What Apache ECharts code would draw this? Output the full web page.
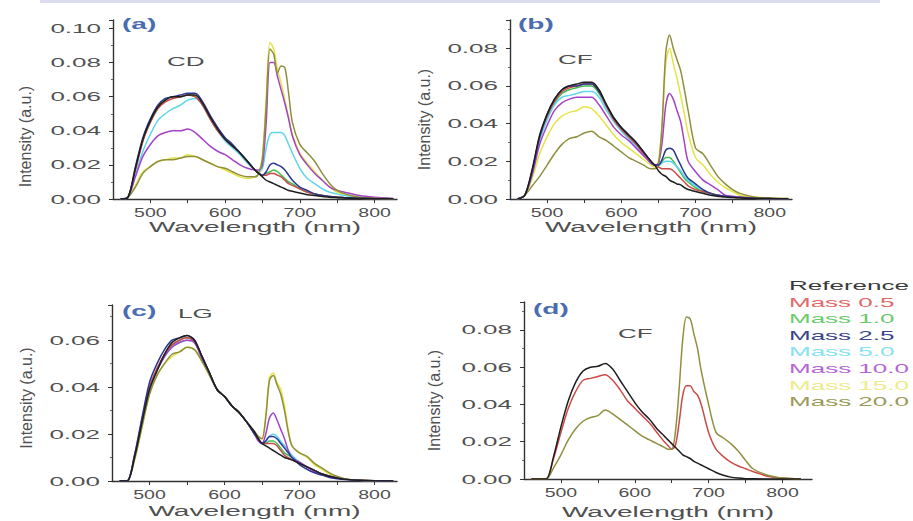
<!DOCTYPE html>
<html><head><meta charset="utf-8">
<script src="https://cdn.jsdelivr.net/npm/echarts@6/dist/echarts.min.js"></script>
<style>html,body{margin:0;padding:0;background:#fff}#c{width:913px;height:521px}</style>
</head><body><div id="c"></div>
<script>
// ---------- data ----------
const WAVELENGTH = [460,470,480,490,500,510,520,530,540,550,560,570,580,590,600,610,620,630,640,645,650,655,660,665,670,675,680,685,690,700,710,720,730,740,750,760,780,800,825];
const SERIES_NAMES = ['Reference','Mass 0.5','Mass 1.0','Mass 2.5','Mass 5.0','Mass 10.0','Mass 15.0','Mass 20.0'];
const X_TICK_LABELS = [500,600,700,800];
const Y_TICK_LABELS = [0.00,0.02,0.04,0.06,0.08,0.10];

// (a) CD
const A_REF   = [0,.001,.018,.035,.046,.054,.058,.060,.060,.061,.061,.056,.048,.041,.035,.031,.027,.022,.017,.015,.013,.011,.010,.009,.008,.007,.006,.005,.0045,.0035,.0025,.002,.0015,.001,.0008,.0006,.0003,.0002,.0001];
const A_M05   = [0,.001,.017,.034,.045,.053,.057,.059,.060,.061,.060,.055,.047,.040,.035,.031,.027,.022,.017,.015,.014,.014,.015,.015,.014,.013,.011,.009,.008,.006,.004,.003,.002,.0015,.001,.0008,.0004,.0002,.0001];
const A_M10   = [0,.001,.017,.034,.045,.053,.058,.060,.060,.061,.060,.055,.047,.040,.035,.031,.027,.022,.017,.015,.014,.015,.016,.017,.016,.014,.012,.010,.009,.006,.004,.003,.002,.0015,.001,.0008,.0004,.0002,.0001];
const A_M25   = [0,.001,.019,.036,.047,.055,.059,.060,.061,.062,.062,.057,.049,.042,.036,.032,.027,.022,.017,.015,.014,.016,.020,.021,.020,.019,.017,.014,.011,.007,.005,.003,.002,.0015,.001,.0008,.0004,.0002,.0001];
const A_M50   = [0,.001,.014,.028,.038,.046,.050,.053,.055,.058,.059,.055,.047,.040,.034,.030,.026,.021,.017,.016,.018,.030,.038,.039,.039,.039,.037,.032,.027,.018,.012,.009,.006,.004,.003,.002,.001,.0005,.0002];
const A_M100  = [0,.001,.013,.025,.032,.037,.039,.040,.040,.041,.039,.035,.031,.028,.026,.023,.020,.018,.017,.017,.020,.045,.080,.080,.072,.064,.056,.047,.037,.026,.020,.015,.011,.007,.005,.004,.002,.001,.0003];
const A_M150  = [0,.001,.008,.016,.019,.022,.023,.024,.024,.026,.025,.023,.021,.019,.017,.015,.013,.012,.013,.015,.025,.060,.092,.088,.076,.068,.058,.048,.038,.027,.021,.016,.011,.007,.004,.003,.001,.0005,.0002];
const A_M200  = [0,.001,.007,.015,.019,.022,.023,.023,.024,.025,.025,.023,.021,.019,.018,.016,.014,.013,.013,.015,.024,.055,.088,.085,.074,.078,.077,.062,.045,.032,.027,.022,.015,.009,.005,.003,.001,.0005,.0002];

// (b) CF
const B_REF   = [0,.002,.016,.034,.045,.053,.058,.060,.061,.062,.062,.058,.050,.043,.038,.034,.030,.025,.020,.018,.015,.013,.012,.010,.009,.008,.0075,.006,.005,.004,.003,.002,.0015,.001,.0008,.0006,.0003,.0002,.0001];
const B_M05   = [0,.002,.015,.033,.044,.052,.057,.059,.060,.061,.061,.057,.049,.042,.037,.033,.029,.024,.019,.018,.017,.016,.016,.016,.015,.013,.011,.009,.007,.005,.004,.003,.002,.0015,.001,.0008,.0004,.0002,.0001];
const B_M10   = [0,.002,.014,.032,.043,.051,.056,.058,.059,.060,.060,.056,.049,.042,.037,.033,.029,.024,.019,.018,.018,.020,.022,.022,.020,.017,.014,.011,.009,.006,.004,.003,.002,.0015,.001,.0008,.0004,.0002,.0001];
const B_M25   = [0,.002,.015,.033,.045,.053,.058,.060,.060,.061,.061,.057,.050,.043,.038,.034,.030,.025,.020,.018,.018,.021,.026,.027,.026,.022,.018,.014,.011,.008,.005,.003,.002,.0015,.001,.0008,.0004,.0002,.0001];
const B_M50   = [0,.002,.014,.031,.042,.050,.054,.055,.056,.057,.057,.054,.047,.041,.036,.032,.028,.024,.019,.018,.018,.019,.020,.020,.019,.017,.015,.012,.010,.007,.005,.003,.002,.0015,.001,.0008,.0004,.0002,.0001];
const B_M100  = [0,.002,.013,.029,.039,.047,.051,.053,.054,.054,.054,.050,.044,.038,.034,.031,.027,.023,.019,.018,.019,.030,.050,.056,.053,.047,.041,.030,.020,.0145,.010,.0075,.005,.002,.0015,.001,.0005,.0002,.0001];
const B_M150  = [0,.002,.011,.024,.033,.040,.044,.046,.047,.049,.048,.044,.039,.034,.030,.027,.024,.021,.018,.017,.020,.040,.072,.080,.072,.064,.055,.045,.035,.022,.018,.013,.009,.006,.004,.002,.001,.0005,.0002];
const B_M200  = [0,.002,.007,.012,.018,.024,.029,.032,.033,.035,.036,.033,.031,.028,.025,.022,.020,.018,.016,.016,.018,.040,.078,.087,.080,.074,.068,.058,.047,.027,.024,.018,.012,.008,.005,.003,.001,.0005,.0002];

// (c) LG
const C_REF   = [0,0,.010,.025,.039,.047,.054,.059,.061,.062,.060,.053,.046,.039,.036,.032,.029,.025,.021,.018,.016,.015,.014,.013,.012,.011,.010,.0095,.009,.0075,.006,.0045,.003,.002,.0013,.0008,.0003,.0001,0];
const C_M05   = [0,0,.011,.026,.040,.048,.054,.058,.060,.061,.059,.053,.046,.039,.036,.032,.029,.025,.020,.018,.016,.016,.016,.016,.015,.013,.011,.010,.009,.0075,.006,.0045,.003,.002,.0013,.0008,.0003,.0001,0];
const C_M10   = [0,0,.010,.025,.039,.047,.054,.058,.060,.061,.059,.053,.046,.039,.036,.032,.029,.025,.020,.018,.016,.016,.017,.017,.016,.014,.012,.011,.010,.008,.006,.0045,.003,.002,.0013,.0008,.0003,.0001,0];
const C_M25   = [0,0,.011,.027,.042,.050,.056,.060,.061,.062,.060,.053,.046,.039,.036,.032,.029,.025,.020,.018,.016,.017,.019,.019,.018,.016,.014,.012,.010,.007,.005,.0035,.0025,.0015,.001,.0006,.0002,.0001,0];
const C_M50   = [0,0,.010,.025,.039,.047,.053,.057,.059,.060,.059,.053,.046,.039,.036,.032,.029,.025,.020,.018,.016,.017,.019,.020,.019,.017,.015,.013,.011,.008,.006,.0045,.003,.002,.0013,.0008,.0003,.0001,0];
const C_M100  = [0,0,.010,.025,.039,.047,.053,.057,.059,.060,.059,.052,.046,.039,.036,.032,.029,.025,.020,.017,.016,.020,.027,.029,.026,.022,.018,.013,.010,.008,.006,.004,.003,.002,.0013,.0008,.0003,.0001,0];
const C_M150  = [0,0,.009,.023,.037,.045,.050,.053,.055,.057,.056,.051,.045,.039,.036,.032,.029,.025,.021,.019,.018,.028,.044,.046,.042,.039,.032,.022,.015,.012,.010,.007,.005,.003,.0017,.001,.0003,.0001,0];
const C_M200  = [0,0,.009,.023,.037,.045,.050,.054,.055,.057,.056,.051,.045,.039,.036,.032,.029,.025,.021,.019,.018,.027,.043,.045,.041,.037,.030,.021,.015,.012,.0105,.0075,.0055,.0035,.002,.001,.0003,.0001,0];

// (d) CF
const D_REF   = [0,0,0,.012,.028,.042,.052,.058,.060,.0605,.062,.059,.053,.047,.041,.036,.032,.027,.023,.021,.019,.017,.015,.013,.012,.011,.0095,.0085,.0075,.0055,.0035,.002,.001,.0005,.0002,.0001,0,0,0];
const D_M05   = [0,0,0,.011,.025,.038,.047,.053,.054,.055,.056,.053,.048,.042,.038,.034,.030,.025,.020,.018,.016,.018,.030,.045,.050,.050,.047,.045,.040,.025,.016,.012,.009,.007,.0055,.004,.0015,.0005,0];
const D_M200  = [0,0,0,.006,.013,.021,.027,.031,.033,.034,.037,.035,.032,.029,.026,.023,.021,.019,.017,.016,.016,.025,.048,.075,.087,.086,.078,.070,.058,.040,.025,.022,.019,.015,.010,.0055,.002,.0005,0];

// ---------- styles / layout ----------
const COLORS = {
  'Reference':'#1e1e1e','Mass 0.5':'#cc4a48','Mass 1.0':'#3fbf4f','Mass 2.5':'#2b3690',
  'Mass 5.0':'#5fd5ef','Mass 10.0':'#a443c9','Mass 15.0':'#e4e446','Mass 20.0':'#8f8f3e'
};
const LEGEND_COLORS = {
  'Reference':'#3a3a3a','Mass 0.5':'#e06a68','Mass 1.0':'#6acc6a','Mass 2.5':'#3a4488',
  'Mass 5.0':'#86e2f2','Mass 10.0':'#b666d6','Mass 15.0':'#ecec8a','Mass 20.0':'#9a9a58'
};
const DRAW_ORDER = ['Mass 1.0','Mass 5.0','Mass 15.0','Mass 0.5','Mass 10.0','Mass 20.0','Mass 2.5','Reference'];

const panels = [
  {label:'(a)', tag:'CD', grid:{left:113,top:20,width:284,height:179}, xMax:830, yMax:0.105, yNameGap:80, yShift:54, xNameGap:20,
   data:{'Reference':A_REF,'Mass 0.5':A_M05,'Mass 1.0':A_M10,'Mass 2.5':A_M25,'Mass 5.0':A_M50,'Mass 10.0':A_M100,'Mass 15.0':A_M150,'Mass 20.0':A_M200},
   labelPos:[122,17], tagPos:[167,55]},
  {label:'(b)', tag:'CF', grid:{left:510,top:20,width:282,height:179}, xMax:830, yMax:0.095, yNameGap:78, yShift:20, xNameGap:20,
   data:{'Reference':B_REF,'Mass 0.5':B_M05,'Mass 1.0':B_M10,'Mass 2.5':B_M25,'Mass 5.0':B_M50,'Mass 10.0':B_M100,'Mass 15.0':B_M150,'Mass 20.0':B_M200},
   labelPos:[518,17], tagPos:[558,53]},
  {label:'(c)', tag:'LG', grid:{left:112,top:305,width:285,height:176}, xMax:830, yMax:0.075, yNameGap:78, yShift:10, xNameGap:23,
   data:{'Reference':C_REF,'Mass 0.5':C_M05,'Mass 1.0':C_M10,'Mass 2.5':C_M25,'Mass 5.0':C_M50,'Mass 10.0':C_M100,'Mass 15.0':C_M150,'Mass 20.0':C_M200},
   labelPos:[122,304], tagPos:[178,307]},
  {label:'(d)', tag:'CF', grid:{left:524,top:302,width:288,height:177}, xMax:840, yMax:0.095, yNameGap:82, yShift:20, xNameGap:26,
   data:{'Reference':D_REF,'Mass 0.5':D_M05,'Mass 20.0':D_M200},
   labelPos:[533,302], tagPos:[618,327]}
];

const FONT = 'Liberation Sans, Arial, sans-serif';
const AX = '#333';
const TXT = '#505050';

const grids = [], xAxes = [], yAxes = [], series = [], titles = [];
panels.forEach((p, i) => {
  grids.push(Object.assign({containLabel:false}, p.grid));
  xAxes.push({
    type:'value', gridIndex:i, min:450, max:p.xMax, interval:50,
    name:'Wavelength (nm)', nameLocation:'middle', nameGap:p.xNameGap,
    nameTextStyle:{fontFamily:FONT, fontSize:14, color:TXT, verticalAlign:'top'},
    axisLine:{onZero:false, lineStyle:{color:AX, width:1.4}},
    axisTick:{show:true, length:4, lineStyle:{color:AX}},
    axisLabel:{margin:7, fontFamily:FONT, fontSize:13, color:TXT, showMaxLabel:false, showMinLabel:false,
      formatter:v => X_TICK_LABELS.indexOf(v) >= 0 ? String(v) : ''},
    splitLine:{show:false}
  });
  yAxes.push({
    type:'value', gridIndex:i, min:0, max:p.yMax, interval:0.02,
    name:'Intensity (a.u.)', nameLocation:'middle', nameGap:p.yNameGap,
    nameTextStyle:{fontFamily:FONT, fontSize:16, color:TXT, padding:[0,p.yShift,0,0]},
    axisLine:{lineStyle:{color:AX, width:1.4}},
    axisTick:{show:true, length:4, lineStyle:{color:AX}},
    minorTick:{show:true, splitNumber:2, length:2, lineStyle:{color:'#666'}},
    axisLabel:{margin:12, fontFamily:FONT, fontSize:13, color:TXT, showMaxLabel:false,
      formatter:v => Y_TICK_LABELS.some(t => Math.abs(t - v) < 1e-9) ? v.toFixed(2) : ''},
    splitLine:{show:false}
  });
  DRAW_ORDER.forEach((name, k) => {
    const arr = p.data[name];
    if (!arr) return;
    series.push({
      type:'line', name, xAxisIndex:i, yAxisIndex:i,
      data: WAVELENGTH.map((w, j) => [w, arr[j]]),
      symbol:'none', smooth:0.3, z:2 + k,
      lineStyle:{width:1.5, color:COLORS[name]}, itemStyle:{color:COLORS[name]}
    });
  });
  titles.push({text:p.label, left:p.labelPos[0], top:p.labelPos[1], padding:0,
    textStyle:{fontFamily:FONT, fontSize:14, fontWeight:'bold', color:'#4a6db0'}});
  titles.push({text:p.tag, left:p.tagPos[0], top:p.tagPos[1], padding:0,
    textStyle:{fontFamily:FONT, fontSize:13, fontWeight:'normal', color:TXT}});
});

const option = {
  backgroundColor:'#fff',
  animation:false,
  title:titles,
  grid:grids, xAxis:xAxes, yAxis:yAxes, series,
  legend:{
    orient:'vertical', left:783, top:279, padding:0, icon:'none', itemWidth:1, itemHeight:13, itemGap:3.6,
    selectedMode:false,
    textStyle:{fontFamily:FONT, fontSize:13},
    data:SERIES_NAMES.map(n => ({name:n, textStyle:{color:LEGEND_COLORS[n]}}))
  },
  graphic:[{type:'rect', left:40, top:0, shape:{width:840, height:3}, style:{fill:'#dcdcf0'}, silent:true}]
};

const chart = echarts.init(document.getElementById('c'), null, {renderer:'svg', width:913, height:521});
chart.setOption(option);

function stretchTexts(){
  document.querySelectorAll('#c svg text').forEach(t => {
    const s = t.textContent || '';
    if (!s || /^Intensity/.test(s)) return;
    let k = 2.0;
    if (/^\d{3}$/.test(s)) k = 1.5;
    if (!t.dataset.base) t.dataset.base = t.getComputedTextLength();
    t.setAttribute('textLength', (+t.dataset.base * k).toFixed(1));
    t.setAttribute('lengthAdjust', 'spacingAndGlyphs');
  });
}
stretchTexts();
chart.on('finished', stretchTexts);
requestAnimationFrame(stretchTexts);
</script></body></html>
